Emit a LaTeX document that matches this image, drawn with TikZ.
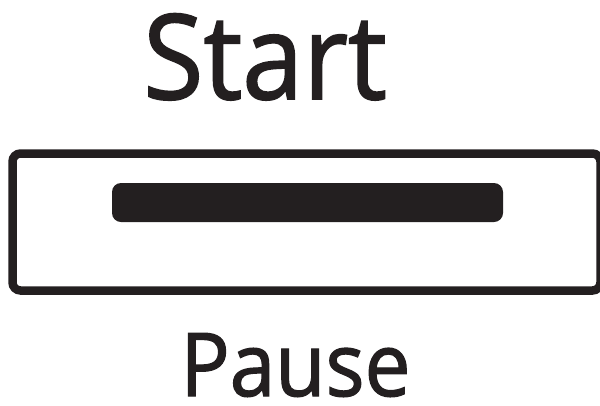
\documentclass[tikz,border=0pt]{standalone}
\usepackage{fontspec}
\setmainfont{Open Sans}[FakeBold=1.5]
\definecolor{ink}{HTML}{231F20}
\begin{document}
\begin{tikzpicture}[x=1pt,y=-1pt,
  lbl/.style={anchor=base,inner sep=0pt,text=ink},
  frame/.style={draw=ink,line width=8.5pt,rounded corners=8pt},
  bar/.style={fill=ink,rounded corners=9pt}]
\useasboundingbox (0,0) rectangle (600,405);
\node[lbl,font=\fontsize{118}{118}\selectfont] (start) at (265,99) {\scalebox{0.93}[1]{Start}};
\draw[frame] (12.5,153.5) rectangle (600.5,290.5);
\fill[bar] (112,183) rectangle (503,222);
\node[lbl,font=\fontsize{88}{88}\selectfont] (pause) at (295.5,396) {\scalebox{0.93}[1]{Pause}};
\end{tikzpicture}
\end{document}
